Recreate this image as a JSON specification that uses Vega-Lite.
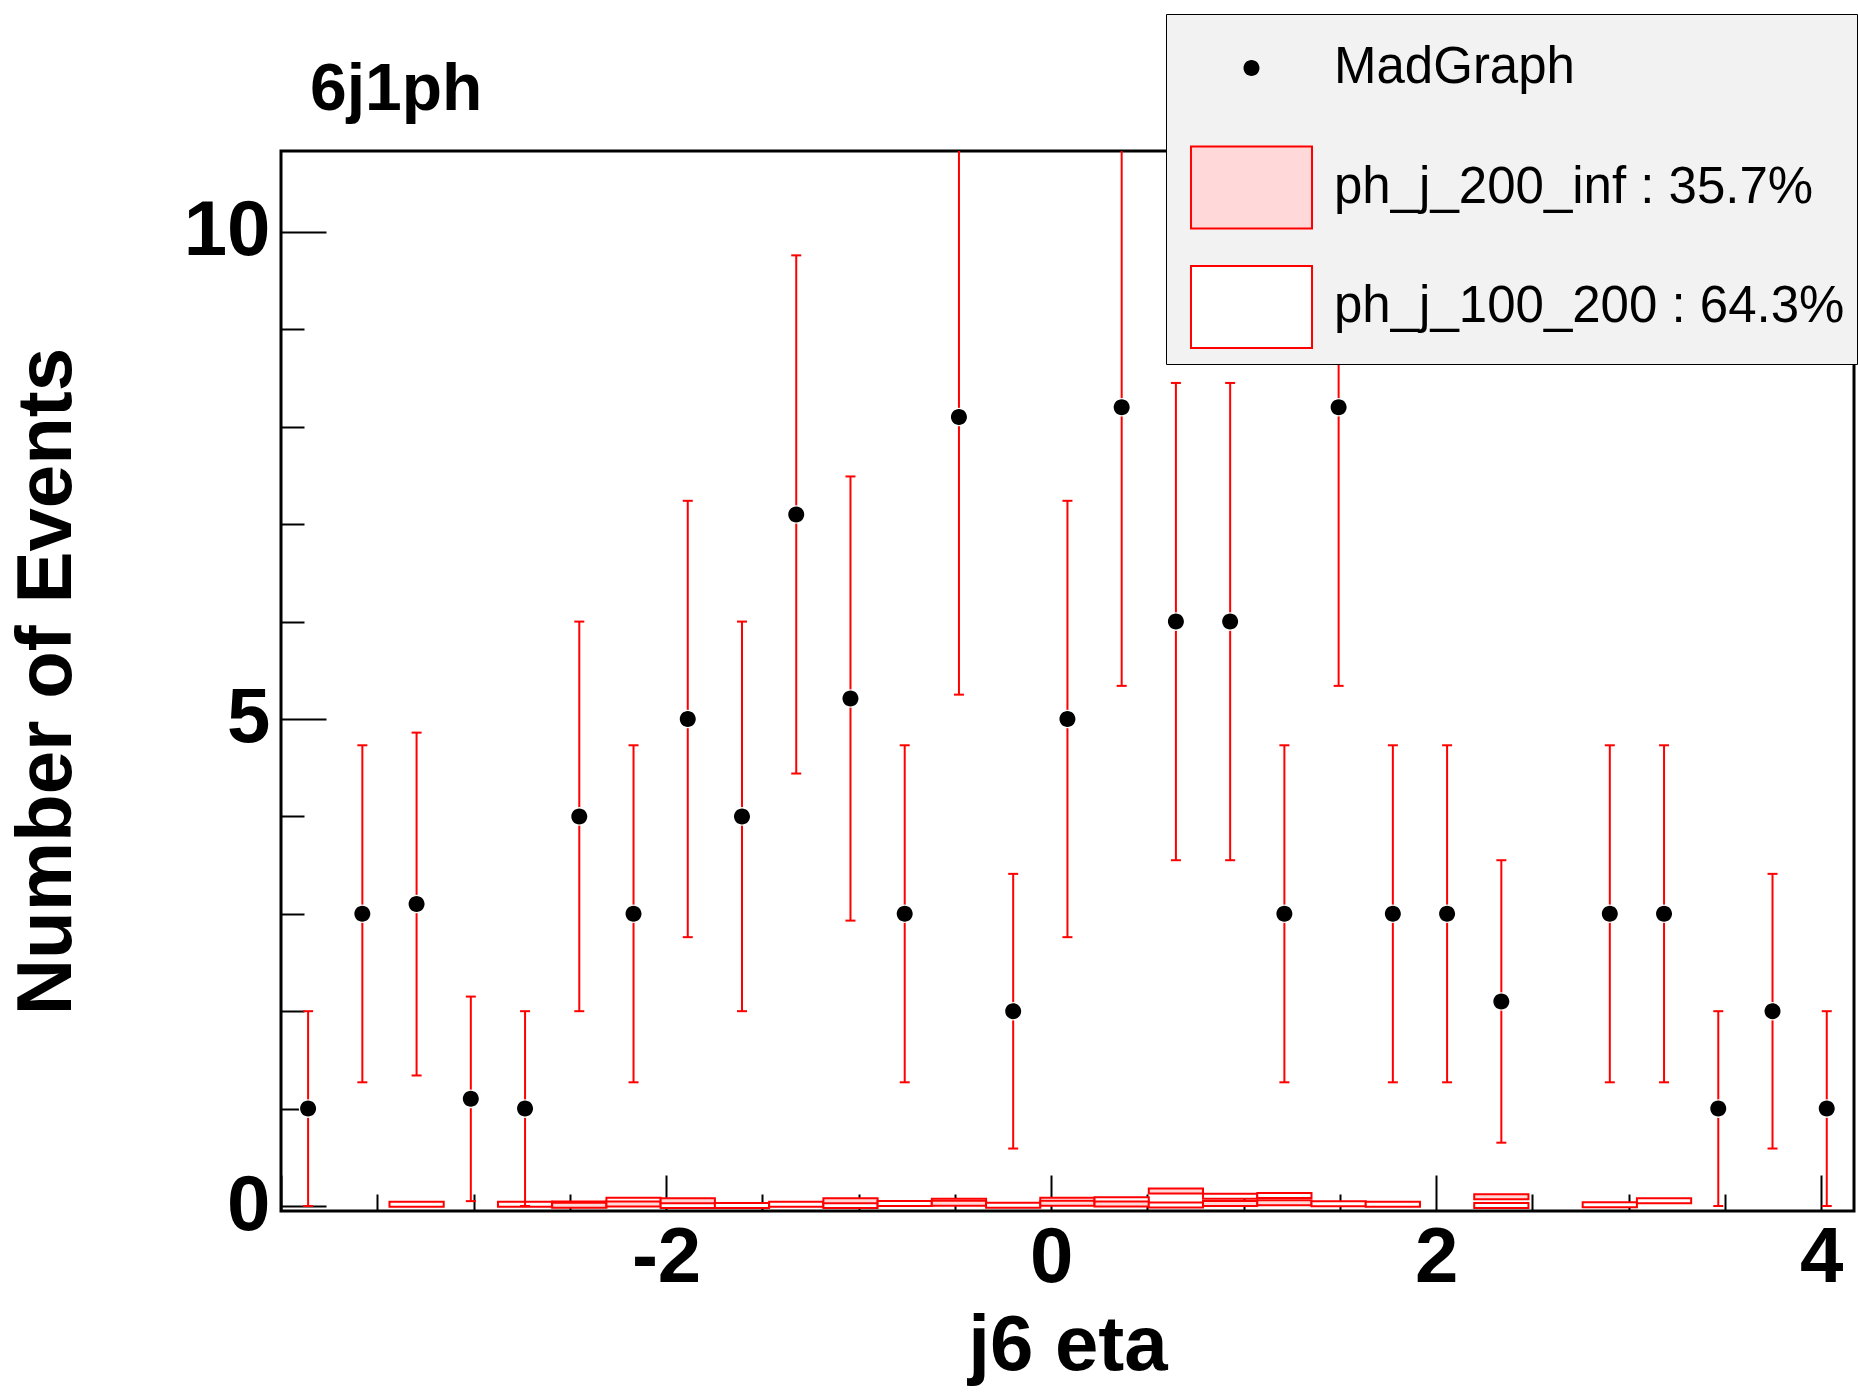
{
  "$schema": "https://vega.github.io/schema/vega-lite/v6.json",
  "width": 1573,
  "height": 1060,
  "autosize": {"type": "none"},
  "padding": {"left": 281, "top": 151, "right": 4, "bottom": 181},
  "background": "white",
  "title": {"text": "6j1ph", "anchor": "start", "frame": "group", "dx": 29, "offset": -162, "baseline": "alphabetic", "font": "Liberation Sans", "fontSize": 66, "fontWeight": "bold", "color": "black"},
  "datasets": {
    "points": [
      {"x": -3.8592, "n": 1, "lo": 0, "hi": 2, "sample": "MadGraph"},
      {"x": -3.5775, "n": 3, "lo": 1.27, "hi": 4.73, "sample": "MadGraph"},
      {"x": -3.2958, "n": 3.1, "lo": 1.34, "hi": 4.86, "sample": "MadGraph"},
      {"x": -3.0141, "n": 1.1, "lo": 0.05, "hi": 2.15, "sample": "MadGraph"},
      {"x": -2.7324, "n": 1, "lo": 0, "hi": 2, "sample": "MadGraph"},
      {"x": -2.4507, "n": 4, "lo": 2, "hi": 6, "sample": "MadGraph"},
      {"x": -2.169, "n": 3, "lo": 1.27, "hi": 4.73, "sample": "MadGraph"},
      {"x": -1.8873, "n": 5, "lo": 2.76, "hi": 7.24, "sample": "MadGraph"},
      {"x": -1.6056, "n": 4, "lo": 2, "hi": 6, "sample": "MadGraph"},
      {"x": -1.3239, "n": 7.1, "lo": 4.44, "hi": 9.76, "sample": "MadGraph"},
      {"x": -1.0422, "n": 5.21, "lo": 2.93, "hi": 7.49, "sample": "MadGraph"},
      {"x": -0.7605, "n": 3, "lo": 1.27, "hi": 4.73, "sample": "MadGraph"},
      {"x": -0.4788, "n": 8.1, "lo": 5.25, "hi": 10.95, "sample": "MadGraph"},
      {"x": -0.1971, "n": 2, "lo": 0.59, "hi": 3.41, "sample": "MadGraph"},
      {"x": 0.0847, "n": 5, "lo": 2.76, "hi": 7.24, "sample": "MadGraph"},
      {"x": 0.3664, "n": 8.2, "lo": 5.34, "hi": 11.06, "sample": "MadGraph"},
      {"x": 0.6481, "n": 6, "lo": 3.55, "hi": 8.45, "sample": "MadGraph"},
      {"x": 0.9298, "n": 6, "lo": 3.55, "hi": 8.45, "sample": "MadGraph"},
      {"x": 1.2115, "n": 3, "lo": 1.27, "hi": 4.73, "sample": "MadGraph"},
      {"x": 1.4932, "n": 8.2, "lo": 5.34, "hi": 11.06, "sample": "MadGraph"},
      {"x": 1.7749, "n": 3, "lo": 1.27, "hi": 4.73, "sample": "MadGraph"},
      {"x": 2.0566, "n": 3, "lo": 1.27, "hi": 4.73, "sample": "MadGraph"},
      {"x": 2.3383, "n": 2.1, "lo": 0.65, "hi": 3.55, "sample": "MadGraph"},
      {"x": 2.9017, "n": 3, "lo": 1.27, "hi": 4.73, "sample": "MadGraph"},
      {"x": 3.1834, "n": 3, "lo": 1.27, "hi": 4.73, "sample": "MadGraph"},
      {"x": 3.4651, "n": 1, "lo": 0, "hi": 2, "sample": "MadGraph"},
      {"x": 3.7468, "n": 2, "lo": 0.59, "hi": 3.41, "sample": "MadGraph"},
      {"x": 4.0285, "n": 1, "lo": 0, "hi": 2, "sample": "MadGraph"}
    ],
    "hist": [
      {"x1": -3.4366, "x2": -3.1549, "n": 0.017, "sample": "ph_j_100_200 : 64.3%"},
      {"x1": -2.8732, "x2": -2.5915, "n": 0.017, "sample": "ph_j_100_200 : 64.3%"},
      {"x1": -2.5915, "x2": -2.3098, "n": 0.02, "sample": "ph_j_100_200 : 64.3%"},
      {"x1": -2.5915, "x2": -2.3098, "n": 0.007, "sample": "ph_j_200_inf : 35.7%"},
      {"x1": -2.3098, "x2": -2.0281, "n": 0.058, "sample": "ph_j_100_200 : 64.3%"},
      {"x1": -2.3098, "x2": -2.0281, "n": 0.02, "sample": "ph_j_200_inf : 35.7%"},
      {"x1": -2.0281, "x2": -1.7464, "n": 0.005, "sample": "ph_j_100_200 : 64.3%"},
      {"x1": -2.0281, "x2": -1.7464, "n": 0.053, "sample": "ph_j_200_inf : 35.7%"},
      {"x1": -1.7464, "x2": -1.4647, "n": 0.005, "sample": "ph_j_100_200 : 64.3%"},
      {"x1": -1.4647, "x2": -1.183, "n": 0.017, "sample": "ph_j_100_200 : 64.3%"},
      {"x1": -1.183, "x2": -0.9013, "n": 0.005, "sample": "ph_j_100_200 : 64.3%"},
      {"x1": -1.183, "x2": -0.9013, "n": 0.053, "sample": "ph_j_200_inf : 35.7%"},
      {"x1": -0.9013, "x2": -0.6196, "n": 0.025, "sample": "ph_j_100_200 : 64.3%"},
      {"x1": -0.6196, "x2": -0.3379, "n": 0.05, "sample": "ph_j_100_200 : 64.3%"},
      {"x1": -0.6196, "x2": -0.3379, "n": 0.028, "sample": "ph_j_200_inf : 35.7%"},
      {"x1": -0.3379, "x2": -0.0562, "n": 0.008, "sample": "ph_j_100_200 : 64.3%"},
      {"x1": -0.0562, "x2": 0.2255, "n": 0.058, "sample": "ph_j_100_200 : 64.3%"},
      {"x1": -0.0562, "x2": 0.2255, "n": 0.028, "sample": "ph_j_200_inf : 35.7%"},
      {"x1": 0.2255, "x2": 0.5072, "n": 0.065, "sample": "ph_j_100_200 : 64.3%"},
      {"x1": 0.2255, "x2": 0.5072, "n": 0.02, "sample": "ph_j_200_inf : 35.7%"},
      {"x1": 0.5072, "x2": 0.7889, "n": 0.01, "sample": "ph_j_100_200 : 64.3%"},
      {"x1": 0.5072, "x2": 0.7889, "n": 0.155, "sample": "ph_j_200_inf : 35.7%"},
      {"x1": 0.7889, "x2": 1.0706, "n": 0.1, "sample": "ph_j_100_200 : 64.3%"},
      {"x1": 0.7889, "x2": 1.0706, "n": 0.026, "sample": "ph_j_200_inf : 35.7%"},
      {"x1": 1.0706, "x2": 1.3523, "n": 0.107, "sample": "ph_j_100_200 : 64.3%"},
      {"x1": 1.0706, "x2": 1.3523, "n": 0.033, "sample": "ph_j_200_inf : 35.7%"},
      {"x1": 1.3523, "x2": 1.634, "n": 0.022, "sample": "ph_j_100_200 : 64.3%"},
      {"x1": 1.634, "x2": 1.9157, "n": 0.018, "sample": "ph_j_100_200 : 64.3%"},
      {"x1": 2.1974, "x2": 2.4791, "n": 0.005, "sample": "ph_j_100_200 : 64.3%"},
      {"x1": 2.1974, "x2": 2.4791, "n": 0.095, "sample": "ph_j_200_inf : 35.7%"},
      {"x1": 2.7608, "x2": 3.0425, "n": 0.013, "sample": "ph_j_100_200 : 64.3%"},
      {"x1": 3.0425, "x2": 3.3242, "n": 0.055, "sample": "ph_j_100_200 : 64.3%"}
    ]
  },
  "resolve": {"axis": {"x": "independent", "y": "independent"}},
  "layer": [
    {
      "data": {"name": "hist"},
      "mark": {"type": "bar", "stroke": "red", "strokeWidth": 2, "clip": true},
      "encoding": {
        "x": {"field": "x1", "type": "quantitative", "scale": {"domain": [-4, 4.17], "nice": false, "zero": false},
          "axis": {"orient": "bottom", "title": "j6 eta", "values": [-4, -2, 0, 2, 4],
            "labelExpr": "datum.value === -4 ? '' : ('' + datum.value)",
            "tickSize": -36, "labelPadding": 44, "titlePadding": 10}},
        "x2": {"field": "x2"},
        "y": {"field": "n", "type": "quantitative", "stack": "zero", "scale": {"domain": [0, 10.78], "nice": false},
          "axis": {"orient": "left", "title": "Number of Events", "values": [0, 5, 10],
            "labelExpr": "'' + datum.value",
            "tickSize": -45, "labelPadding": 56, "titlePadding": 97}},
        "fill": {"field": "sample", "type": "nominal",
          "scale": {"domain": ["ph_j_200_inf : 35.7%", "ph_j_100_200 : 64.3%"], "range": ["#ffd9d9", "white"]},
          "legend": null},
        "order": {"field": "sample", "sort": "ascending"}
      }
    },
    {
      "data": {"name": "points"},
      "mark": {"type": "rule", "color": "red", "strokeWidth": 2, "clip": true},
      "encoding": {
        "x": {"field": "x", "type": "quantitative",
          "axis": {"orient": "bottom", "title": null, "labels": false, "tickSize": -17,
            "values": [-3.5, -3, -2.5, -1.5, -1, -0.5, 0.5, 1, 1.5, 2.5, 3, 3.5]}},
        "y": {"field": "lo", "type": "quantitative",
          "axis": {"orient": "left", "title": null, "labels": false, "tickSize": -23,
            "values": [1, 2, 3, 4, 6, 7, 8, 9]}},
        "y2": {"field": "hi"}
      }
    },
    {
      "data": {"name": "points"},
      "mark": {"type": "tick", "orient": "horizontal", "color": "red", "size": 10, "thickness": 2, "opacity": 1, "clip": true},
      "encoding": {
        "x": {"field": "x", "type": "quantitative", "axis": null},
        "y": {"field": "lo", "type": "quantitative", "axis": null}
      }
    },
    {
      "data": {"name": "points"},
      "mark": {"type": "tick", "orient": "horizontal", "color": "red", "size": 10, "thickness": 2, "opacity": 1, "clip": true},
      "encoding": {
        "x": {"field": "x", "type": "quantitative", "axis": null},
        "y": {"field": "hi", "type": "quantitative", "axis": null}
      }
    },
    {
      "data": {"name": "points"},
      "mark": {"type": "point", "shape": "circle", "filled": true, "color": "white", "size": 346, "opacity": 1, "strokeWidth": 0},
      "encoding": {
        "x": {"field": "x", "type": "quantitative", "axis": null},
        "y": {"field": "n", "type": "quantitative", "axis": null}
      }
    },
    {
      "data": {"name": "points"},
      "mark": {"type": "point", "filled": true, "size": 6724, "opacity": 1, "strokeWidth": 2},
      "encoding": {
        "x": {"field": "x", "type": "quantitative", "axis": null},
        "y": {"field": "n", "type": "quantitative", "axis": null},
        "color": {"field": "sample", "type": "nominal",
          "scale": {"domain": ["MadGraph", "ph_j_200_inf : 35.7%", "ph_j_100_200 : 64.3%"], "range": ["black", "#ffd9d9", "white"]},
          "legend": {"title": null}},
        "shape": {"field": "sample", "type": "nominal",
          "scale": {"domain": ["MadGraph", "ph_j_200_inf : 35.7%", "ph_j_100_200 : 64.3%"],
            "range": ["M-1.476,-1L-1.475,-1M1.476,1L1.475,1M0.195,0A0.195,0.195,0,1,1,-0.195,0A0.195,0.195,0,1,1,0.195,0Z", "M-1.476,-1H1.476V1H-1.476Z", "M-1.476,-1H1.476V1H-1.476Z"]},
          "legend": {"title": null}},
        "stroke": {"field": "sample", "type": "nominal",
          "scale": {"domain": ["MadGraph", "ph_j_200_inf : 35.7%", "ph_j_100_200 : 64.3%"], "range": ["transparent", "red", "red"]},
          "legend": {"title": null}}
      }
    }
  ],
  "config": {
    "view": {"stroke": "black", "strokeWidth": 3},
    "font": "Liberation Sans",
    "axis": {"domain": false, "grid": false, "labelFont": "Liberation Sans", "labelFontSize": 78, "labelFontWeight": "bold", "labelColor": "black",
      "titleFont": "Liberation Sans", "titleFontSize": 78, "titleFontWeight": "bold", "titleColor": "black",
      "tickColor": "black", "tickWidth": 2, "labelOverlap": false, "labelFlush": false},
    "legend": {
      "orient": "none", "legendX": 885, "legendY": -137, "direction": "vertical",
      "fillColor": "#f2f2f2", "strokeColor": "black", "padding": 12,
      "symbolSize": 6724, "symbolStrokeWidth": 2, "symbolOffset": 31.5,
      "labelFont": "Liberation Sans", "labelFontSize": 51, "labelFontWeight": "normal", "labelColor": "black",
      "labelOffset": 40.5, "labelLimit": 2000, "rowPadding": 29.5, "symbolOpacity": 1
    }
  }
}
